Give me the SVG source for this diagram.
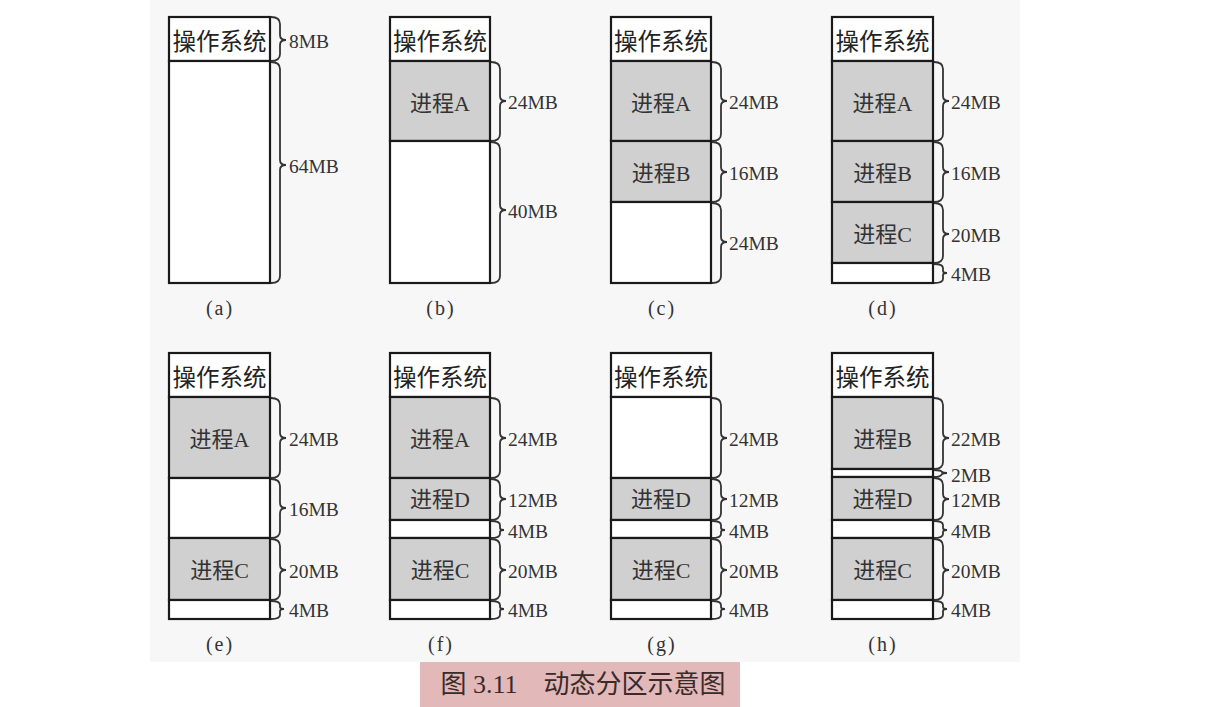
<svg xmlns="http://www.w3.org/2000/svg" width="1219" height="707" viewBox="0 0 1219 707">
<style>
.blk{stroke:#1a1a1a;stroke-width:2.2;}
.free{fill:#ffffff;}
.proc{fill:#d0d0d0;}
.os{font-family:"Noto Sans CJK SC","Noto Sans CJK JP",sans-serif;font-size:23.5px;fill:#222;text-anchor:middle;dominant-baseline:central;}
.pl{font-family:"Liberation Serif","Noto Sans CJK SC",serif;font-size:22px;fill:#333;text-anchor:middle;dominant-baseline:central;}
.sz{font-family:"Liberation Serif",serif;font-size:19.5px;fill:#333;dominant-baseline:central;}
.cap{font-family:"Liberation Serif","Noto Sans CJK SC",serif;font-size:20px;fill:#333;text-anchor:middle;letter-spacing:2px;}
.br{fill:none;stroke:#333;stroke-width:1.8;}
</style>
<rect x="0" y="0" width="1219" height="707" fill="#ffffff"/>
<rect x="150" y="0" width="870" height="662" fill="#f7f7f7"/>
<rect x="420" y="662" width="320" height="45" fill="#e2b8b8"/>

<!-- (a) -->
<g id="panel-a">
<rect class="blk free" x="169" y="17" width="101" height="44"/>
<rect class="blk free" x="169" y="61" width="101" height="222"/>
<text class="os" x="219.5" y="40">操作系统</text>
<text class="sz" x="289" y="41">8MB</text>
<text class="sz" x="289" y="166">64MB</text>
<text class="cap" x="220" y="315">(a)</text>
</g>

<!-- (b) -->
<g id="panel-b">
<rect class="blk free" x="390" y="17" width="100" height="44"/>
<rect class="blk proc" x="390" y="61" width="100" height="80"/>
<rect class="blk free" x="390" y="141" width="100" height="142"/>
<text class="os" x="440" y="40">操作系统</text>
<text class="pl" x="440" y="103">进程A</text>
<text class="sz" x="508" y="102">24MB</text>
<text class="sz" x="508" y="211">40MB</text>
<text class="cap" x="441" y="315">(b)</text>
</g>

<!-- (c) -->
<g id="panel-c">
<rect class="blk free" x="611" y="17" width="100" height="44"/>
<rect class="blk proc" x="611" y="61" width="100" height="80"/>
<rect class="blk proc" x="611" y="141" width="100" height="61"/>
<rect class="blk free" x="611" y="202" width="100" height="81"/>
<text class="os" x="661" y="40">操作系统</text>
<text class="pl" x="661" y="103">进程A</text>
<text class="pl" x="661" y="173">进程B</text>
<text class="sz" x="729" y="102">24MB</text>
<text class="sz" x="729" y="173">16MB</text>
<text class="sz" x="729" y="243">24MB</text>
<text class="cap" x="662" y="315">(c)</text>
</g>

<!-- (d) -->
<g id="panel-d">
<rect class="blk free" x="832" y="17" width="101" height="44"/>
<rect class="blk proc" x="832" y="61" width="101" height="80"/>
<rect class="blk proc" x="832" y="141" width="101" height="61"/>
<rect class="blk proc" x="832" y="202" width="101" height="61"/>
<rect class="blk free" x="832" y="263" width="101" height="20"/>
<text class="os" x="882.5" y="40">操作系统</text>
<text class="pl" x="882.5" y="103">进程A</text>
<text class="pl" x="882.5" y="173">进程B</text>
<text class="pl" x="882.5" y="234">进程C</text>
<text class="sz" x="951" y="102">24MB</text>
<text class="sz" x="951" y="173">16MB</text>
<text class="sz" x="951" y="235">20MB</text>
<text class="sz" x="951" y="274">4MB</text>
<text class="cap" x="883" y="315">(d)</text>
</g>

<!-- (e) -->
<g id="panel-e">
<rect class="blk free" x="169" y="353" width="101" height="44"/>
<rect class="blk proc" x="169" y="397" width="101" height="81"/>
<rect class="blk free" x="169" y="478" width="101" height="60"/>
<rect class="blk proc" x="169" y="538" width="101" height="62"/>
<rect class="blk free" x="169" y="600" width="101" height="19"/>
<text class="os" x="219.5" y="376">操作系统</text>
<text class="pl" x="219.5" y="439">进程A</text>
<text class="pl" x="219.5" y="570">进程C</text>
<text class="sz" x="289" y="439">24MB</text>
<text class="sz" x="289" y="509">16MB</text>
<text class="sz" x="289" y="571">20MB</text>
<text class="sz" x="289" y="610">4MB</text>
<text class="cap" x="220" y="651">(e)</text>
</g>

<!-- (f) -->
<g id="panel-f">
<rect class="blk free" x="390" y="353" width="100" height="44"/>
<rect class="blk proc" x="390" y="397" width="100" height="81"/>
<rect class="blk proc" x="390" y="478" width="100" height="42"/>
<rect class="blk free" x="390" y="520" width="100" height="18"/>
<rect class="blk proc" x="390" y="538" width="100" height="62"/>
<rect class="blk free" x="390" y="600" width="100" height="19"/>
<text class="os" x="440" y="376">操作系统</text>
<text class="pl" x="440" y="439">进程A</text>
<text class="pl" x="440" y="499">进程D</text>
<text class="pl" x="440" y="570">进程C</text>
<text class="sz" x="508" y="439">24MB</text>
<text class="sz" x="508" y="500">12MB</text>
<text class="sz" x="508" y="531">4MB</text>
<text class="sz" x="508" y="571">20MB</text>
<text class="sz" x="508" y="610">4MB</text>
<text class="cap" x="441" y="651">(f)</text>
</g>

<!-- (g) -->
<g id="panel-g">
<rect class="blk free" x="611" y="353" width="100" height="44"/>
<rect class="blk free" x="611" y="397" width="100" height="81"/>
<rect class="blk proc" x="611" y="478" width="100" height="42"/>
<rect class="blk free" x="611" y="520" width="100" height="18"/>
<rect class="blk proc" x="611" y="538" width="100" height="62"/>
<rect class="blk free" x="611" y="600" width="100" height="19"/>
<text class="os" x="661" y="376">操作系统</text>
<text class="pl" x="661" y="499">进程D</text>
<text class="pl" x="661" y="570">进程C</text>
<text class="sz" x="729" y="439">24MB</text>
<text class="sz" x="729" y="500">12MB</text>
<text class="sz" x="729" y="531">4MB</text>
<text class="sz" x="729" y="571">20MB</text>
<text class="sz" x="729" y="610">4MB</text>
<text class="cap" x="662" y="651">(g)</text>
</g>

<!-- (h) -->
<g id="panel-h">
<rect class="blk free" x="832" y="353" width="101" height="44"/>
<rect class="blk proc" x="832" y="397" width="101" height="72"/>
<rect class="blk free" x="832" y="469" width="101" height="8"/>
<rect class="blk proc" x="832" y="477" width="101" height="43"/>
<rect class="blk free" x="832" y="520" width="101" height="18"/>
<rect class="blk proc" x="832" y="538" width="101" height="62"/>
<rect class="blk free" x="832" y="600" width="101" height="19"/>
<text class="os" x="882.5" y="376">操作系统</text>
<text class="pl" x="882.5" y="439">进程B</text>
<text class="pl" x="882.5" y="499">进程D</text>
<text class="pl" x="882.5" y="570">进程C</text>
<text class="sz" x="951" y="439">22MB</text>
<text class="sz" x="951" y="475">2MB</text>
<text class="sz" x="951" y="500">12MB</text>
<text class="sz" x="951" y="531">4MB</text>
<text class="sz" x="951" y="571">20MB</text>
<text class="sz" x="951" y="610">4MB</text>
<text class="cap" x="883" y="651">(h)</text>
</g>

<!-- braces -->
<g id="connectors">
<!-- (a) -->
<path class="br" d="M271,17 Q280,17 280,24 L280,35 Q280,40 286,40 Q280,40 280,45 L280,54 Q280,61 271,61"/>
<path class="br" d="M271,62 Q280,62 280,69 L280,160 Q280,165 286,165 Q280,165 280,170 L280,276 Q280,283 271,283"/>
<!-- (b) -->
<path class="br" d="M491,62 Q500,62 500,69 L500,96 Q500,101 506,101 Q500,101 500,106 L500,134 Q500,141 491,141"/>
<path class="br" d="M491,142 Q500,142 500,149 L500,205 Q500,210 506,210 Q500,210 500,215 L500,276 Q500,283 491,283"/>
<!-- (c) -->
<path class="br" d="M712,62 Q721,62 721,69 L721,96 Q721,101 727,101 Q721,101 721,106 L721,134 Q721,141 712,141"/>
<path class="br" d="M712,142 Q721,142 721,149 L721,167 Q721,172 727,172 Q721,172 721,177 L721,195 Q721,202 712,202"/>
<path class="br" d="M712,203 Q721,203 721,210 L721,237 Q721,242 727,242 Q721,242 721,247 L721,276 Q721,283 712,283"/>
<!-- (d) -->
<path class="br" d="M934,62 Q943,62 943,69 L943,96 Q943,101 949,101 Q943,101 943,106 L943,134 Q943,141 934,141"/>
<path class="br" d="M934,142 Q943,142 943,149 L943,167 Q943,172 949,172 Q943,172 943,177 L943,195 Q943,202 934,202"/>
<path class="br" d="M934,203 Q943,203 943,210 L943,229 Q943,234 949,234 Q943,234 943,239 L943,256 Q943,263 934,263"/>
<path class="br" d="M934,264 Q943,264 943,268 L943,271 Q943,273 947,273 Q943,273 943,275 L943,279 Q943,283 934,283"/>
<!-- (e) -->
<path class="br" d="M271,398 Q280,398 280,405 L280,433 Q280,438 286,438 Q280,438 280,443 L280,471 Q280,478 271,478"/>
<path class="br" d="M271,479 Q280,479 280,486 L280,503 Q280,508 286,508 Q280,508 280,513 L280,531 Q280,538 271,538"/>
<path class="br" d="M271,539 Q280,539 280,546 L280,565 Q280,570 286,570 Q280,570 280,575 L280,593 Q280,600 271,600"/>
<path class="br" d="M271,601 Q280,601 280,605 L280,607 Q280,609 284,609 Q280,609 280,611 L280,615 Q280,619 271,619"/>
<!-- (f) -->
<path class="br" d="M491,398 Q500,398 500,405 L500,433 Q500,438 506,438 Q500,438 500,443 L500,471 Q500,478 491,478"/>
<path class="br" d="M491,479 Q500,479 500,486 L500,494 Q500,499 506,499 Q500,499 500,504 L500,513 Q500,520 491,520"/>
<path class="br" d="M491,521 Q500,521 500,525 L500,528 Q500,530 504,530 Q500,530 500,532 L500,534 Q500,538 491,538"/>
<path class="br" d="M491,539 Q500,539 500,546 L500,565 Q500,570 506,570 Q500,570 500,575 L500,593 Q500,600 491,600"/>
<path class="br" d="M491,601 Q500,601 500,605 L500,607 Q500,609 504,609 Q500,609 500,611 L500,615 Q500,619 491,619"/>
<!-- (g) -->
<path class="br" d="M712,398 Q721,398 721,405 L721,433 Q721,438 727,438 Q721,438 721,443 L721,471 Q721,478 712,478"/>
<path class="br" d="M712,479 Q721,479 721,486 L721,494 Q721,499 727,499 Q721,499 721,504 L721,513 Q721,520 712,520"/>
<path class="br" d="M712,521 Q721,521 721,525 L721,528 Q721,530 725,530 Q721,530 721,532 L721,534 Q721,538 712,538"/>
<path class="br" d="M712,539 Q721,539 721,546 L721,565 Q721,570 727,570 Q721,570 721,575 L721,593 Q721,600 712,600"/>
<path class="br" d="M712,601 Q721,601 721,605 L721,607 Q721,609 725,609 Q721,609 721,611 L721,615 Q721,619 712,619"/>
<!-- (h) -->
<path class="br" d="M934,398 Q943,398 943,405 L943,433 Q943,438 949,438 Q943,438 943,443 L943,462 Q943,469 934,469"/>
<path class="br" d="M934,470 Q941,470 942,472 Q943,473 947,473 Q943,473 942,474 Q941,477 934,477"/>
<path class="br" d="M934,478 Q943,478 943,485 L943,494 Q943,499 949,499 Q943,499 943,504 L943,513 Q943,520 934,520"/>
<path class="br" d="M934,521 Q943,521 943,525 L943,528 Q943,530 947,530 Q943,530 943,532 L943,534 Q943,538 934,538"/>
<path class="br" d="M934,539 Q943,539 943,546 L943,565 Q943,570 949,570 Q943,570 943,575 L943,593 Q943,600 934,600"/>
<path class="br" d="M934,601 Q943,601 943,605 L943,607 Q943,609 947,609 Q943,609 943,611 L943,615 Q943,619 934,619"/>
</g>

<text x="583" y="693" style="font-family:'Liberation Serif','Noto Sans CJK SC',serif;font-size:26px;fill:#3a2a2a;text-anchor:middle;">图 3.11　动态分区示意图</text>
</svg>
